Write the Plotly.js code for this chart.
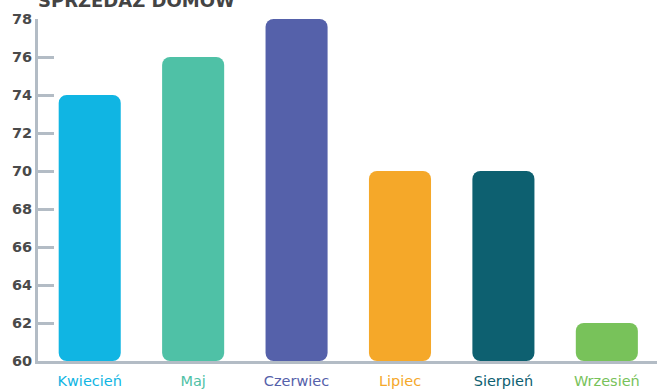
<!DOCTYPE html>
<html>
<head>
<meta charset="utf-8">
<script src="https://cdn.plot.ly/plotly-3.0.1.min.js"></script>
<style>html,body{margin:0;padding:0;background:#fff;}#chart{width:657px;height:390px;}</style>
</head>
<body>
<div id="chart"></div>
<script>
const categories = ["Kwiecień", "Maj", "Czerwiec", "Lipiec", "Sierpień", "Wrzesień"];
const values = [74, 76, 78, 70, 70, 62];
const colors = ["#10B5E3", "#4FC1A6", "#5561AA", "#F5A829", "#0D6070", "#78C25A"];
const yTicks = [60, 62, 64, 66, 68, 70, 72, 74, 76, 78];
const titleText = "SPRZEDAŻ DOMÓW";
const axisMin = 60, axisMax = 78;

const idx = categories.map((_, i) => i);
const tickText = categories.map((c, i) => '<span style="color:' + colors[i] + '">' + c + '</span>');

const bars = {
  type: 'bar', x: idx, base: values.map(() => axisMin), y: values.map(v => v - axisMin),
  marker: {color: colors, line: {width: 0}}, hoverinfo: 'skip', cliponaxis: false, showlegend: false
};

const layout = {
  width: 657, height: 390,
  margin: {l: 38, r: 0, t: 19, b: 29, pad: 0},
  paper_bgcolor: '#ffffff', plot_bgcolor: '#ffffff',
  bargap: 0.4, barcornerradius: 8,
  font: {family: 'DejaVu Sans, sans-serif'},
  xaxis: {
    range: [-0.5, 5.485], tickvals: idx, ticktext: tickText,
    showgrid: false, zeroline: false, showline: true, linecolor: '#B3BCC5', linewidth: 3,
    ticks: '', ticklabelstandoff: 5, tickfont: {size: 14.5, color: '#555'}, fixedrange: true
  },
  yaxis: {
    range: [axisMin, axisMax], tickvals: yTicks, ticktext: yTicks.map(String),
    showgrid: false, zeroline: false, showline: true, linecolor: '#B3BCC5', linewidth: 3,
    ticks: 'inside', ticklen: 16, tickwidth: 3, tickcolor: '#B3BCC5',
    tickfont: {size: 14.5, color: '#4a4a4a', weight: 'bold'}, fixedrange: true
  },
  annotations: [{
    text: titleText, xref: 'paper', yref: 'paper', x: 0, y: 1, xanchor: 'left', yanchor: 'bottom',
    yshift: 6, xshift: -2, showarrow: false, font: {size: 18, color: '#444', weight: 600}
  }]
};
Plotly.newPlot('chart', [bars], layout, {displayModeBar: false, staticPlot: true});
</script>
</body>
</html>
